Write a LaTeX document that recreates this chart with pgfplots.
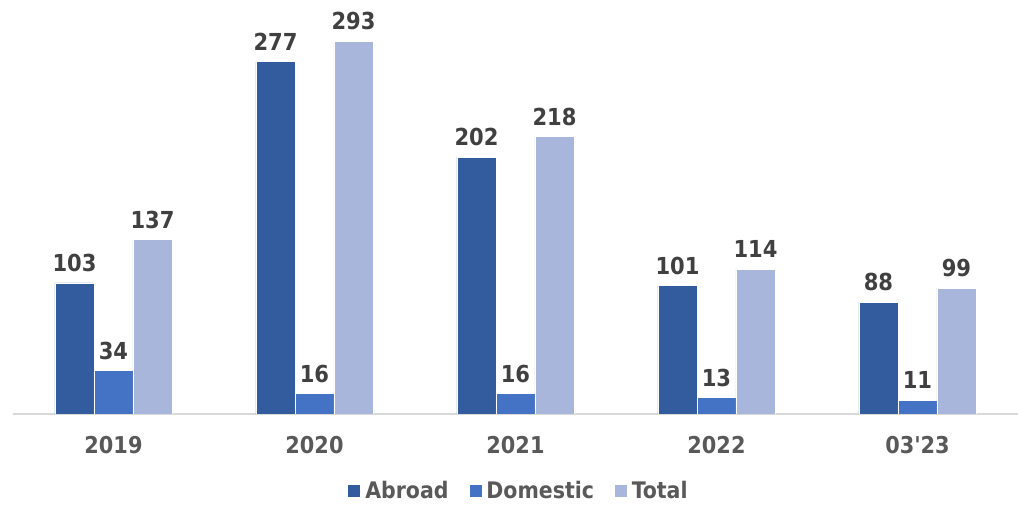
\documentclass[border=0pt]{standalone}
\usepackage{pgfplots}
\pgfplotsset{compat=1.18}
\usepackage{fontspec}
\setmainfont{DejaVu Sans Condensed}[BoldFont=DejaVu Sans Condensed Bold]
\definecolor{cAbroad}{HTML}{335C9F}
\definecolor{cDom}{HTML}{4472C4}
\definecolor{cTot}{HTML}{A9B6DB}
\definecolor{lbl}{HTML}{404040}
\definecolor{tck}{HTML}{595959}
\definecolor{axl}{HTML}{D9D9D9}
\begin{document}
\begin{tikzpicture}
\begin{axis}[
  at={(0,0)}, anchor=south west,
  scale only axis,
  width=502.5pt, height=203.5pt,
  xmin=-0.5, xmax=4.5, ymin=0, ymax=320,
  ybar=0pt, bar width=19.5pt,
  axis x line*=bottom, axis y line=none,
  x axis line style={draw=axl, line width=0.75pt},
  xtick={0,1,2,3,4}, xticklabels={2019,2020,2021,2022,03\textquotesingle 23},
  major tick length=0pt,
  xticklabel style={font=\fontsize{11.6}{13}\selectfont\bfseries, text=tck, yshift=-7.5pt},
  /pgf/number format/assume math mode=true,
  nodes near coords,
  every node near coord/.append style={font=\fontsize{11.7}{13}\selectfont\bfseries, text=lbl, yshift=2pt},
  legend columns=3,
  legend style={at={(0.504,-0.19)}, anchor=center, draw=none, fill=none,
    font=\fontsize{11.4}{13}\selectfont\bfseries, text=tck,
    /tikz/every even column/.append style={column sep=8pt}},
  legend image code/.code={\fill[#1] (0pt,-3.25pt) rectangle (6.5pt,3.25pt);},
]
\addplot[fill=cAbroad, draw=white, line width=0.4pt] coordinates {(0,103) (1,277) (2,202) (3,101) (4,88)};
\addplot[fill=cDom, draw=white, line width=0.4pt] coordinates {(0,34) (1,16) (2,16) (3,13) (4,11)};
\addplot[fill=cTot, draw=white, line width=0.4pt] coordinates {(0,137) (1,293) (2,218) (3,114) (4,99)};
\legend{Abroad,Domestic,Total}
\end{axis}
\pgfresetboundingbox
\path[use as bounding box] (-6.5pt,-47pt) rectangle (502.5pt,207pt);
\end{tikzpicture}
\end{document}
